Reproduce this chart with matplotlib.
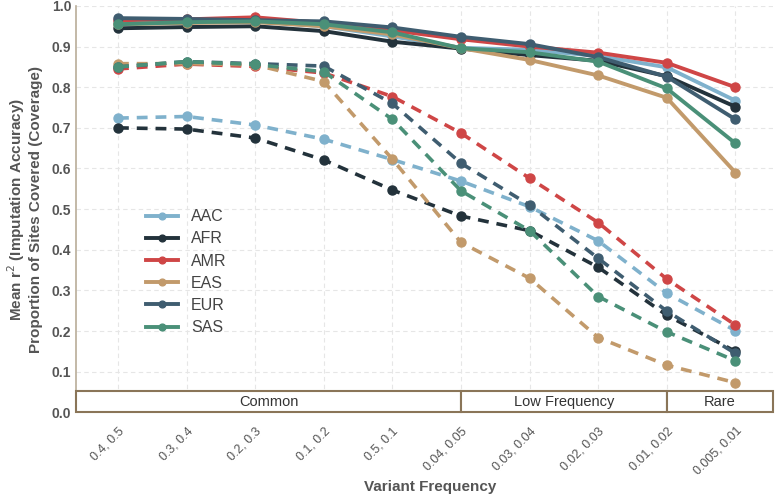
import matplotlib
matplotlib.use("Agg")
import matplotlib.pyplot as plt
from matplotlib.patches import Rectangle
import numpy as np

plt.rcParams['font.family'] = ['Liberation Sans', 'DejaVu Sans']

freqs = ["0.4, 0.5", "0.3, 0.4", "0.2, 0.3", "0.1, 0.2", "0.5, 0.1",
         "0.04, 0.05", "0.03, 0.04", "0.02, 0.03", "0.01, 0.02", "0.005, 0.01"]
pops = ["AAC", "AFR", "AMR", "EAS", "EUR", "SAS"]
colors = {"AAC": "#7fb1cc", "AFR": "#23323b", "AMR": "#cf4646",
          "EAS": "#c29a6b", "EUR": "#3f5d70", "SAS": "#4a9078"}

# mean r2 (solid)
r2_aac = [0.960, 0.960, 0.962, 0.950, 0.925, 0.897, 0.892, 0.877, 0.849, 0.767]
r2_afr = [0.945, 0.948, 0.950, 0.938, 0.912, 0.895, 0.879, 0.865, 0.827, 0.752]
r2_amr = [0.965, 0.967, 0.972, 0.958, 0.940, 0.918, 0.900, 0.885, 0.860, 0.800]
r2_eas = [0.955, 0.958, 0.960, 0.950, 0.930, 0.896, 0.867, 0.829, 0.774, 0.590]
r2_eur = [0.970, 0.968, 0.965, 0.962, 0.947, 0.924, 0.906, 0.874, 0.826, 0.721]
r2_sas = [0.955, 0.960, 0.962, 0.955, 0.935, 0.896, 0.886, 0.863, 0.797, 0.662]

# coverage (dashed)
cov_aac = [0.724, 0.728, 0.707, 0.672, 0.622, 0.569, 0.506, 0.422, 0.293, 0.201]
cov_afr = [0.700, 0.697, 0.675, 0.621, 0.547, 0.483, 0.447, 0.357, 0.239, 0.150]
cov_amr = [0.845, 0.857, 0.851, 0.835, 0.777, 0.687, 0.576, 0.467, 0.328, 0.215]
cov_eas = [0.858, 0.858, 0.855, 0.814, 0.623, 0.418, 0.330, 0.184, 0.116, 0.073]
cov_eur = [0.850, 0.863, 0.858, 0.852, 0.760, 0.613, 0.510, 0.379, 0.249, 0.145]
cov_sas = [0.850, 0.863, 0.856, 0.838, 0.721, 0.545, 0.447, 0.285, 0.198, 0.127]

r2 = {"AAC": r2_aac, "AFR": r2_afr, "AMR": r2_amr, "EAS": r2_eas, "EUR": r2_eur, "SAS": r2_sas}
cov = {"AAC": cov_aac, "AFR": cov_afr, "AMR": cov_amr, "EAS": cov_eas, "EUR": cov_eur, "SAS": cov_sas}

groups = ["Common", "Low Frequency", "Rare"]
group_bounds = [(None, 5), (5, 8), (8, None)]

fig = plt.figure(figsize=(7.77, 4.95), dpi=100)
ax = fig.add_axes([0.098, 0.167, 0.897, 0.821])
x = np.arange(len(freqs))
grey = "#555555"

for p in pops:
    ax.plot(x, cov[p], ls=(0, (3, 2.2)), lw=2.6, color=colors[p], marker="o", ms=6.5, zorder=3)
for p in pops:
    ax.plot(x, r2[p], ls="-", lw=2.8, color=colors[p], marker="o", ms=6.5, zorder=4, label=p)

ax.set_xlim(-0.61, 9.55)
ax.set_ylim(0, 1.0)
ax.set_yticks(np.arange(0, 1.01, 0.1))
ax.set_yticklabels(["%.1f" % v for v in np.arange(0, 1.01, 0.1)], fontsize=10, fontweight="bold", color=grey)
ax.set_xticks(x)
ax.set_xticklabels(freqs, rotation=45, ha="right", rotation_mode="anchor", fontsize=9, color=grey)
ax.tick_params(axis="both", length=0)
ax.tick_params(axis="x", pad=9)
ax.grid(True, ls=(0, (4, 3)), color="#e6e6e6", lw=0.8)
ax.set_axisbelow(True)
for s in ["top", "right", "bottom"]:
    ax.spines[s].set_visible(False)
ax.spines["left"].set_color("#b9ad98")
ax.spines["left"].set_linewidth(1.2)

# frequency class bands
band_h = 0.052
xmin, xmax = ax.get_xlim()
for g, (a, b) in zip(groups, group_bounds):
    a = xmin if a is None else a
    b = xmax if b is None else b
    ax.add_patch(Rectangle((a, 0.001), b - a, band_h, facecolor="white", edgecolor="#8a7558",
                           lw=1.5, zorder=5, clip_on=False))
    ax.text((a + b) / 2, band_h / 2, g, ha="center", va="center", fontsize=10.5, color="#333333", zorder=6)

ax.set_ylabel("Mean r$^2$ (Imputation Accuracy)\nProportion of Sites Covered (Coverage)",
              fontsize=11, fontweight="bold", color=grey, labelpad=6)
ax.set_xlabel("Variant Frequency", fontsize=11, fontweight="bold", color=grey, va="center")
ax.xaxis.set_label_coords(0.508, -0.184)

ax.legend(loc="upper left", bbox_to_anchor=(0.08, 0.535), frameon=False, fontsize=11.5,
          handlelength=2.0, labelspacing=0.45, labelcolor="#444444", markerscale=0.75)

fig.savefig("out.png", dpi=100)
